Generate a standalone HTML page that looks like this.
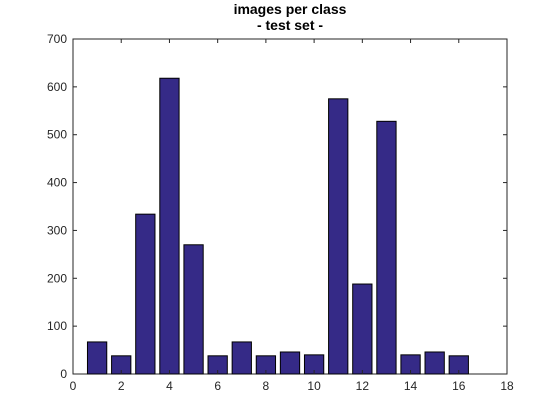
<!DOCTYPE html>
<html><head><meta charset="utf-8"><style>
html,body{margin:0;padding:0;background:#fff;width:560px;height:420px;overflow:hidden}
svg{display:block;font-family:"Liberation Sans",sans-serif}
</style></head><body>
<svg id="chart" width="560" height="420" xmlns="http://www.w3.org/2000/svg">
<rect x="0" y="0" width="560" height="420" fill="#fff"/>
<text x="290" y="14" text-anchor="middle" font-size="14" font-weight="bold">images per class</text>
<text x="290" y="30" text-anchor="middle" font-size="14" font-weight="bold">- test set -</text>
<g id="plot"></g>
</svg>
<script>
const categories=[1,2,3,4,5,6,7,8,9,10,11,12,13,14,15,16];
const values=[67,38,334,618,270,38,67,38,46,40,575,188,528,40,46,38];
const xTicks=[0,2,4,6,8,10,12,14,16,18];
const yTicks=[0,100,200,300,400,500,600,700];
const L=73,R=507,T=39,B=374;
const xMin=0,xMax=18,yMin=0,yMax=700;
const xs=v=>L+(v-xMin)/(xMax-xMin)*(R-L);
const ys=v=>B-(v-yMin)/(yMax-yMin)*(B-T);
const NS="http://www.w3.org/2000/svg";
const g=document.getElementById('plot');
function mk(t,a){const e=document.createElementNS(NS,t);for(const k in a)e.setAttribute(k,a[k]);g.appendChild(e);return e;}
const box=mk('rect',{x:L,y:T,width:R-L,height:B-T,fill:'#fff',stroke:'#262626','stroke-width':1});


categories.forEach((c,i)=>{
  const x0=xs(c-0.4),x1=xs(c+0.4),y0=ys(values[i]);
  const r=mk('rect',{x:x0,y:y0,width:x1-x0,height:B-y0,fill:'#352a87',stroke:'#000','stroke-width':1});
  
  
});
xTicks.forEach(t=>{
  const x=xs(t);
  const l=mk('line',{x1:x,x2:x,y1:B,y2:B-4,stroke:'#262626'});
  
  
  const l2=mk('line',{x1:x,x2:x,y1:T,y2:T+4,stroke:'#262626'});
  
  
  const tx=mk('text',{x:x,y:B+16,'text-anchor':'middle','font-size':12,fill:'#262626'});
  tx.textContent=t;
  
  
});
yTicks.forEach(t=>{
  const y=ys(t);
  const l=mk('line',{x1:L,x2:L+4,y1:y,y2:y,stroke:'#262626'});
  
  
  const l2=mk('line',{x1:R,x2:R-4,y1:y,y2:y,stroke:'#262626'});
  
  
  const tx=mk('text',{x:L-6,y:y+4,'text-anchor':'end','font-size':12,fill:'#262626'});
  tx.textContent=t;
  
  
});
</script>
</body></html>
